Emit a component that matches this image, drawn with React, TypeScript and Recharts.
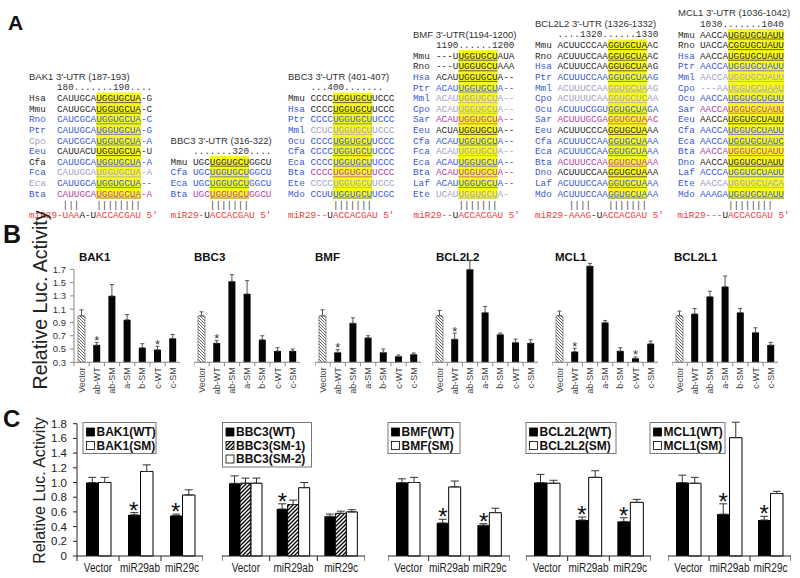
import React from "react";
import { ComposedChart, Bar, XAxis, YAxis, ErrorBar, Cell, Line } from "recharts";

const SANS = "'Liberation Sans', Arial, Helvetica, sans-serif";
const MONO = "'Liberation Mono', 'Courier New', monospace";
const STARF = "'Liberation Sans', Arial, sans-serif";

// ---------------- Panel A : alignment text ----------------
const bak1Species = ["Hsa", "Mmu", "Rno", "Ptr", "Cpo", "Eeu", "Cfa", "Fca", "Eca", "Bta"];
const bak1Seqs = ["CAUUGCAUGGUGCUA-G", "CAUUGCAUGGUGCUA-C", "CAUCGCAUGGUGCUA-C", "CAUUGCAUGGUGCUA-G", "CAUCGCAUGGUGCUA-A", "CAUUACUUGGUGCUA-U", "CAUUGCAUGGUGCUA-A", "CAUUGCAUGGUGCUA-A", "CAUUGCAUGGUGCUA--", "CAUUGCAUGGUGCUA-A"];
const bbc3aSpecies = ["Mmu", "Cfa", "Eca", "Bta"];
const bbc3aSeqs = ["UGCUGGUGCUGGCU", "UGCUGGUGCUGGCU", "UGCUGGUGCUGGCU", "UGCUGGUGCUGGCU"];
const bbc3bSpecies = ["Mmu", "Hsa", "Ptr", "Mml", "Ocu", "Cfa", "Eca", "Bta", "Ete", "Mdo"];
const bbc3bSeqs = ["CCCCUGGUGCUUCCC", "CCCCUGGUGCUUCCC", "CCCCUGGUGCUUCCC", "CCUCUGGUGCUUCCC", "CCCCUGGUGCUUCCC", "CCCCUGGUGCUUCCC", "CCCCUGGUGCUUCCC", "CCCCUGGUGCUUCCC", "CCCCUGGUGCUUCCC", "CCUUUGGUGCUUCGC"];
const bmfSpecies = ["Mmu", "Rno", "Hsa", "Ptr", "Mml", "Cpo", "Sar", "Eeu", "Cfa", "Fca", "Eca", "Bta", "Laf", "Ete"];
const bmfSeqs = ["---UUGGUGCUAUA", "---UUGGUGCUAAA", "ACAUUGGUGCUA--", "ACAUUGGUGCUA--", "ACAUUGGUGCUA--", "ACAUUGGUGCUA--", "ACAUUGGUGCUA--", "ACUAUGGUGCUA--", "ACAUUGGUGCUA--", "ACAUUGGUGCUA--", "ACAUUGGUGCUA--", "ACAUUGGUGCUA--", "ACAUUGGUGCUA--", "UCAUUGGUGCUA-"];
const bcl2l2Species = ["Mmu", "Rno", "Hsa", "Ptr", "Mml", "Cpo", "Ocu", "Sar", "Eeu", "Cfa", "Eca", "Bta", "Dno", "Laf", "Mdo"];
const bcl2l2Seqs = ["ACUUCCCAAGGUGCUAAC", "ACUUUCCAAGGUGCUAAC", "ACUUUCCAAGGUGCUAAG", "ACUUUCCAAGGUGCUAAG", "ACUUUCCAAGGUGCUAAG", "ACUUUUCAAGGUGCUCAA", "ACUUUCGGUGGUGCUAGA", "ACUUUGCGAGGUGCUAAC", "ACUUUCCCAGGUGCUAAA", "ACUUUCCAAGGUGCUAAA", "ACUUUCCAAGGUGCUAAA", "ACUUUCCAAGGUGCUAAA", "ACUUUCCAAGGUGCUAAA", "ACUUUCCAAGGUGCUAAA", "ACUUUCCAAGGUGCUAAA"];
const mcl1Species = ["Mmu", "Rno", "Hsa", "Ptr", "Mml", "Cpo", "Ocu", "Sar", "Eeu", "Cfa", "Eca", "Bta", "Dno", "Laf", "Ete", "Mdo"];
const mcl1Seqs = ["AACCAUGGUGCUAUU", "UACCACGGUGCUAUU", "AACCAUGGUGCUAUU", "AACCAUGGUGCUAUU", "AACCAUGGUGCUAUU", "---AAUGGUGCUAAU", "AACCAUGGUGCUGUU", "AACCAUGGUGCUAUU", "AACCAUGGUGCUAUU", "AACCAUGGUGCUAUU", "AACCAUGGUGCUAUC", "AACCAUGGUGCUAUU", "AACCAUGGUGCUAUU", "ACCCAUGGUGCUAUU", "AACCAUGGUGCUACA", "AAAGAUGGUGCUAUU"];

const alignBlocks = [
  { title: "BAK1 3'-UTR (187-193)", ruler: "180.......190....", species: bak1Species, seqs: bak1Seqs, seed: [7, 8], pairs: " |||   ||||||||", mir: "miR29-UAAA-UACCACGAU 5'", mirShift: 5, mirBlack: [9, 12] },
  { title: "BBC3 3'-UTR (316-322)", ruler: ".......320....", species: bbc3aSpecies, seqs: bbc3aSeqs, seed: [3, 7], pairs: "   |||||||", mir: "miR29-UACCACGAU 5'", mirShift: 4, mirBlack: [6, 7] },
  { title: "BBC3 3'-UTR (401-407)", ruler: "...400.......", species: bbc3bSpecies, seqs: bbc3bSeqs, seed: [4, 7], pairs: "    |||||||", mir: "miR29--UACCACGAU 5'", mirShift: 4, mirBlack: [7, 8] },
  { title: "BMF 3'-UTR(1194-1200)", ruler: "1190......1200", species: bmfSpecies, seqs: bmfSeqs, seed: [4, 7], pairs: "    |||||||", mir: "miR29--UACCACGAU 5'", mirShift: 4, mirBlack: [7, 8] },
  { title: "BCL2L2 3'-UTR (1326-1332)", ruler: "....1320......1330", species: bcl2l2Species, seqs: bcl2l2Seqs, seed: [9, 7], pairs: "  ||||   |||||||", mir: "miR29-AAAG-UACCACGAU 5'", mirShift: 4, mirBlack: [10, 12] },
  { title: "MCL1 3'-UTR (1036-1042)", ruler: "1030.......1040", species: mcl1Species, seqs: mcl1Seqs, seed: [5, 10], pairs: "     ||||||||", mir: "miR29---UACCACGAU 5'", mirShift: 4, mirBlack: [8, 9] },
];

// styles for panel A (colour tone per row: k black, b blue, g grey, p purple)
const alignLabelTones = ["kkbbgbkbgb", "kbbb", "kbbbbbbbbb", "kkbbbbbbbbbbbb", "kkbbbbbbbbbbbbb", "kkbbbbbbbbbbbbbb"];
const alignSeqTones = ["kkbbbkbgbp", "kbbp", "kkbgbbbpgb", "kkkbggpkbgbpbg", "kkkbggbpkbbpkbb", "kkkbggbpkbbpkbgb"];
const alignPos = [
  { lx: 29, sx: 57 },
  { lx: 170.6, sx: 193 },
  { lx: 288, sx: 310.5 },
  { lx: 413, sx: 436 },
  { lx: 535, sx: 557.5 },
  { lx: 678, sx: 700 },
];
const TONE: Record<string, string> = { k: "#2a2a2a", b: "#3b59d6", g: "#a2a2c4", p: "#b344a6" };
const RED = "#f03a3a";
const CW = 5.6;
const FS_MONO = 9.33;
const ROW_BOTTOM = 193.5;
const ROW_STEP = 10.6;

// ---------------- Panel B data ----------------
const bCategories = ["Vector", "ab-WT", "ab-SM", "a-SM", "b-SM", "c-WT", "c-SM"];
const bTicks = [0.3, 0.5, 0.7, 0.9, 1.1, 1.3, 1.5, 1.7];
const bGenes = ["BAK1", "BBC3", "BMF", "BCL2L2", "MCL1", "BCL2L1"];
const bak1Luc = [1.0, 0.56, 1.3, 0.94, 0.52, 0.49, 0.66];
const bak1LucErr = [0.09, 0.04, 0.17, 0.08, 0.06, 0.05, 0.06];
const bak1LucStars = [1, 5];
const bbc3Luc = [1.0, 0.59, 1.52, 1.33, 0.64, 0.47, 0.47];
const bbc3LucErr = [0.06, 0.04, 0.1, 0.2, 0.06, 0.05, 0.03];
const bbc3LucStars = [1];
const bmfLuc = [1.0, 0.45, 0.89, 0.67, 0.45, 0.39, 0.42];
const bmfLucErr = [0.09, 0.04, 0.08, 0.03, 0.05, 0.02, 0.02];
const bmfLucStars = [1];
const bcl2l2Luc = [1.0, 0.65, 1.7, 1.05, 0.72, 0.6, 0.59];
const bcl2l2LucErr = [0.08, 0.09, 0.13, 0.09, 0.02, 0.05, 0.05];
const bcl2l2LucStars = [1];
const mcl1Luc = [1.0, 0.46, 1.75, 0.9, 0.47, 0.36, 0.58];
const mcl1LucErr = [0.07, 0.05, 0.04, 0.03, 0.05, 0.02, 0.04];
const mcl1LucStars = [1, 5];
const bcl2l1Luc = [1.0, 1.03, 1.29, 1.44, 1.05, 0.75, 0.56];
const bcl2l1LucErr = [0.07, 0.08, 0.08, 0.16, 0.06, 0.07, 0.04];
const bcl2l1LucStars: number[] = [];

// ---------------- Panel C data ----------------
const cCategories = ["Vector", "miR29ab", "miR29c"];
const cTicks = [0, 0.2, 0.4, 0.6, 0.8, 1.0, 1.2, 1.4, 1.6, 1.8];
const bak1Wt = [1.0, 0.56, 0.55];
const bak1WtErr = [0.07, 0.03, 0.02];
const bak1Sm = [1.0, 1.15, 0.83];
const bak1SmErr = [0.07, 0.09, 0.07];
const bak1CStars = [1, 2];
const bbc3Wt = [0.99, 0.64, 0.54];
const bbc3WtErr = [0.1, 0.07, 0.03];
const bbc3Sm1 = [0.99, 0.7, 0.58];
const bbc3Sm1Err = [0.07, 0.06, 0.03];
const bbc3Sm2 = [0.99, 0.93, 0.6];
const bbc3Sm2Err = [0.07, 0.07, 0.03];
const bbc3CStars = [1];
const bmfWt = [1.0, 0.45, 0.42];
const bmfWtErr = [0.05, 0.05, 0.02];
const bmfSm = [1.0, 0.94, 0.59];
const bmfSmErr = [0.07, 0.08, 0.06];
const bmfCStars = [1, 2];
const bcl2l2Wt = [1.0, 0.49, 0.47];
const bcl2l2WtErr = [0.11, 0.04, 0.05];
const bcl2l2Sm = [0.99, 1.07, 0.73];
const bcl2l2SmErr = [0.04, 0.09, 0.04];
const bcl2l2CStars = [1, 2];
const mcl1Wt = [1.0, 0.57, 0.49];
const mcl1WtErr = [0.1, 0.14, 0.05];
const mcl1Sm = [0.99, 1.61, 0.85];
const mcl1SmErr = [0.08, 0.21, 0.03];
const mcl1CStars = [1, 2];

// ---------------- layout constants ----------------
const B_BOTTOM = 362.3;
const B_PPU = 66.4;
const B_WRAP_TOP = 250;
const B_XH = 40;
const B_BAND = 15.2;
const B_PLOT_W = B_BAND * 7;
const bLefts = [74, 193.5, 314.5, 432, 551.5, 671.5];
const bTitleX = [79, 194, 315, 436, 555, 674];

const C_BOTTOM = 556;
const C_PPU = 73.5;
const C_WRAP_TOP = 400;
const C_XH = 22;

function Alignment({ k }: { k: number }) {
  const b = alignBlocks[k];
  const p = alignPos[k];
  const n = b.species.length;
  const rowY = (i: number) => ROW_BOTTOM - (n - 1 - i) * ROW_STEP;
  const base = (c: number) => c + 3.1;
  const firstY = rowY(0);
  const hx = p.sx + b.seed[0] * CW;
  const hw = b.seed[1] * CW;
  const mirX = p.sx - b.mirShift * CW;
  const pre: React.CSSProperties = { whiteSpace: "pre" };
  return (
    <g>
      <rect x={hx} y={firstY - 5.6} width={hw} height={rowY(n - 1) - firstY + 11.2} fill="#f8f81c" />
      <text x={p.lx} y={firstY - 21.6 + 3.4} fontFamily={SANS} fontSize={9.5} fill="#333">{b.title}</text>
      <text x={p.sx} y={base(firstY - 11)} fontFamily={MONO} fontSize={FS_MONO} fill="#333" style={pre}>{b.ruler}</text>
      {b.species.map((s, i) => {
        const lt = TONE[alignLabelTones[k][i]];
        const st = TONE[alignSeqTones[k][i]];
        const y = base(rowY(i));
        return (
          <g key={i}>
            <text x={p.lx} y={y} fontFamily={MONO} fontSize={FS_MONO} fill={lt}>{s}</text>
            <text x={p.sx} y={y} fontFamily={MONO} fontSize={FS_MONO} fill={st} style={pre}>{b.seqs[i]}</text>
            <line x1={hx} x2={Math.min(hx + hw, p.sx + b.seqs[i].length * CW)} y1={y + 1.4} y2={y + 1.4} stroke={st} strokeWidth={0.7} />
          </g>
        );
      })}
      <text x={p.sx} y={207.5} fontFamily={MONO} fontSize={FS_MONO} fill="#444" style={pre}>{b.pairs}</text>
      <text x={mirX} y={218} fontFamily={MONO} fontSize={FS_MONO} style={pre}>
        <tspan fill={RED}>{b.mir.slice(0, b.mirBlack[0])}</tspan>
        <tspan fill="#222">{b.mir.slice(b.mirBlack[0], b.mirBlack[1])}</tspan>
        <tspan fill={RED}>{b.mir.slice(b.mirBlack[1])}</tspan>
      </text>
    </g>
  );
}

const starDot = (dx: number, size: number, off: number, color: string) => (p: any) => {
  const key = `st${p.index}`;
  if (p.value == null || p.cy == null || Number.isNaN(p.cy)) return <g key={key} />;
  return (
    <text key={key} x={p.cx + dx} y={p.cy + off} textAnchor="middle" fontFamily={STARF} fontSize={size} fill={color} stroke="none">*</text>
  );
};

const renderBTick = (props: any) => {
  const { x, y, payload, index } = props;
  const h = B_BAND / 2;
  return (
    <g>
      <line x1={x + h} x2={x + h} y1={y} y2={y + 4} stroke="#8a8a8a" />
      {index === 0 ? <line x1={x - h} x2={x - h} y1={y} y2={y + 4} stroke="#8a8a8a" /> : null}
      <text x={x} y={y + 5} transform={`rotate(-90 ${x} ${y + 5})`} textAnchor="end" dominantBaseline="central" fontFamily={SANS} fontSize={9} fill="#444">{payload.value}</text>
    </g>
  );
};

function BChart({ k, vals, errs, stars }: { k: number; vals: number[]; errs: number[]; stars: number[] }) {
  const withAxis = k === 0;
  const data = bCategories.map((c, i) => ({
    cat: c,
    v: vals[i],
    e: [0, errs[i]],
    star: stars.includes(i) ? vals[i] + errs[i] : null,
  }));
  const max = withAxis ? 1.7 : 1.9;
  const plotH = (max - 0.3) * B_PPU;
  const mTop = B_BOTTOM - plotH - B_WRAP_TOP;
  const yW = withAxis ? 30 : 0;
  const H = B_BOTTOM - B_WRAP_TOP + B_XH;
  const W = yW + B_PLOT_W;
  return (
    <div style={{ position: "absolute", left: bLefts[k] - yW, top: B_WRAP_TOP }}>
      <ComposedChart width={W} height={H} data={data} margin={{ top: mTop, right: 0, bottom: 0, left: 0 }} barSize={7}>
        <XAxis dataKey="cat" interval={0} tickLine={false} tickSize={0} tickMargin={0} height={B_XH} axisLine={{ stroke: "#8a8a8a" }} tick={renderBTick} />
        {withAxis ? (
          <YAxis
            domain={[0.3, 1.7]}
            ticks={bTicks}
            interval={0}
            width={30}
            tickSize={4}
            tickMargin={4}
            axisLine={{ stroke: "#8a8a8a" }}
            tickLine={{ stroke: "#8a8a8a" }}
            tick={{ fontSize: 9.5, fill: "#333", fontFamily: SANS }}
            tickFormatter={(v: number) => v.toFixed(1)}
          />
        ) : (
          <YAxis hide domain={[0.3, 1.9]} />
        )}
        <Bar dataKey="v" isAnimationActive={false}>
          {data.map((d, i) => (
            <Cell key={i} fill={i === 0 ? "url(#hatchB)" : "#050505"} stroke={i === 0 ? "#777" : "none"} strokeWidth={0.8} />
          ))}
          <ErrorBar dataKey="e" width={2} stroke="#555" strokeWidth={1} direction="y" />
        </Bar>
        <Line dataKey="star" stroke="none" isAnimationActive={false} activeDot={false} dot={starDot(0, 13, 2.5, "#333")} />
      </ComposedChart>
    </div>
  );
}

type CSeries = { vals: number[]; errs: number[]; fill: string; stroke: string };

function CChart({ left, plotW, barSize, series, stars, withAxis }: { left: number; plotW: number; barSize: number; series: CSeries[]; stars: number[]; withAxis: boolean }) {
  const data = cCategories.map((c, i) => {
    const row: any = { cat: c };
    series.forEach((s, j) => {
      row["v" + j] = s.vals[i];
      row["e" + j] = [0, s.errs[i]];
    });
    row.star = stars.includes(i) ? series[0].vals[i] + series[0].errs[i] : null;
    return row;
  });
  const band = plotW / cCategories.length;
  const max = withAxis ? 1.8 : 2.0;
  const plotH = max * C_PPU;
  const mTop = C_BOTTOM - plotH - C_WRAP_TOP;
  const yW = withAxis ? 40 : 0;
  const H = C_BOTTOM - C_WRAP_TOP + C_XH;
  const W = yW + plotW;
  const renderCTick = (props: any) => {
    const { x, y, payload, index } = props;
    const h = band / 2;
    return (
      <g>
        <line x1={x + h} x2={x + h} y1={y} y2={y + 5} stroke="#222" />
        {index === 0 ? <line x1={x - h} x2={x - h} y1={y} y2={y + 5} stroke="#222" /> : null}
        <text transform={`translate(${x},${y + 15.5}) scale(0.8,1)`} textAnchor="middle" fontFamily={SANS} fontSize={12.5} fill="#222">{payload.value}</text>
      </g>
    );
  };
  const dx = -(barSize * (series.length - 1)) / 2;
  return (
    <div style={{ position: "absolute", left: left - yW, top: C_WRAP_TOP }}>
      <ComposedChart width={W} height={H} data={data} margin={{ top: mTop, right: 0, bottom: 0, left: 0 }} barSize={barSize} barGap={0}>
        <XAxis dataKey="cat" interval={0} tickLine={false} tickSize={0} tickMargin={0} height={C_XH} axisLine={{ stroke: "#222" }} tick={renderCTick} />
        {withAxis ? (
          <YAxis
            domain={[0, 1.8]}
            ticks={cTicks}
            interval={0}
            width={40}
            tickSize={4}
            tickMargin={6}
            axisLine={{ stroke: "#222" }}
            tickLine={{ stroke: "#222" }}
            tick={{ fontSize: 11.5, fill: "#222", fontFamily: SANS }}
            tickFormatter={(v: number) => (v === 0 ? "0" : v.toFixed(1))}
          />
        ) : (
          <YAxis hide domain={[0, 2.0]} />
        )}
        {series.map((s, j) => (
          <Bar key={j} dataKey={"v" + j} fill={s.fill} stroke={s.stroke} strokeWidth={1} isAnimationActive={false}>
            <ErrorBar dataKey={"e" + j} width={4} stroke="#333" strokeWidth={1} direction="y" />
          </Bar>
        ))}
        <Line dataKey="star" stroke="none" isAnimationActive={false} activeDot={false} dot={starDot(dx, 24, 6, "#111")} />
      </ComposedChart>
    </div>
  );
}

const WT: [string, string] = ["#000", "none"];
const SM: [string, string] = ["#fff", "#000"];
const SMH: [string, string] = ["url(#hatchC)", "#000"];
const mk = (vals: number[], errs: number[], st: [string, string]): CSeries => ({ vals, errs, fill: st[0], stroke: st[1] });

const cLegends = [
  { x: 83, w: 73, labels: ["BAK1(WT)", "BAK1(SM)"], kinds: ["wt", "sm"] },
  { x: 222.5, w: 89, labels: ["BBC3(WT)", "BBC3(SM-1)", "BBC3(SM-2)"], kinds: ["wt", "h", "sm"] },
  { x: 388, w: 72, labels: ["BMF(WT)", "BMF(SM)"], kinds: ["wt", "sm"] },
  { x: 526, w: 90, labels: ["BCL2L2(WT)", "BCL2L2(SM)"], kinds: ["wt", "sm"] },
  { x: 650, w: 75, labels: ["MCL1(WT)", "MCL1(SM)"], kinds: ["wt", "sm"] },
];

export default function App() {
  return (
    <div style={{ position: "absolute", left: 0, top: 0, width: 800, height: 578, overflow: "hidden", background: "#fff" }}>
      <svg width={0} height={0} style={{ position: "absolute" }}>
        <defs>
          <pattern id="hatchB" patternUnits="userSpaceOnUse" width={3} height={3}>
            <rect width={3} height={3} fill="#fff" />
            <path d="M-1,-1 L4,4 M-1,2 L1,4 M2,-1 L4,1" stroke="#555" strokeWidth={0.9} />
          </pattern>
          <pattern id="hatchC" patternUnits="userSpaceOnUse" width={4} height={4}>
            <rect width={4} height={4} fill="#fff" />
            <path d="M-1,5 L5,-1 M-1,1 L1,-1 M3,5 L5,3" stroke="#000" strokeWidth={1.3} />
          </pattern>
        </defs>
      </svg>
      <svg width={800} height={578} style={{ position: "absolute", left: 0, top: 0 }}>
        <text x={8} y={30} fontFamily={SANS} fontWeight="bold" fontSize={21} fill="#111">A</text>
        <text x={3} y={242.5} fontFamily={SANS} fontWeight="bold" fontSize={25} fill="#111">B</text>
        <text x={3} y={427} fontFamily={SANS} fontWeight="bold" fontSize={24} fill="#111">C</text>
        {alignBlocks.map((_, k) => <Alignment key={k} k={k} />)}
        <text transform="translate(47,300) rotate(-90)" textAnchor="middle" fontFamily={SANS} fontSize={19.5} fill="#222">Relative Luc. Activity</text>
        <text transform="translate(45,490.5) rotate(-90)" textAnchor="middle" fontFamily={SANS} fontSize={16} fill="#222">Relative Luc. Activity</text>
        {bGenes.map((g, i) => (
          <text key={g} x={bTitleX[i]} y={261} fontFamily={SANS} fontWeight="bold" fontSize={11.5} fill="#111">{g}</text>
        ))}
      </svg>
      <BChart k={0} vals={bak1Luc} errs={bak1LucErr} stars={bak1LucStars} />
      <BChart k={1} vals={bbc3Luc} errs={bbc3LucErr} stars={bbc3LucStars} />
      <BChart k={2} vals={bmfLuc} errs={bmfLucErr} stars={bmfLucStars} />
      <BChart k={3} vals={bcl2l2Luc} errs={bcl2l2LucErr} stars={bcl2l2LucStars} />
      <BChart k={4} vals={mcl1Luc} errs={mcl1LucErr} stars={mcl1LucStars} />
      <BChart k={5} vals={bcl2l1Luc} errs={bcl2l1LucErr} stars={bcl2l1LucStars} />

      <CChart left={77} plotW={126} barSize={12.5} withAxis series={[mk(bak1Wt, bak1WtErr, WT), mk(bak1Sm, bak1SmErr, SM)]} stars={bak1CStars} />
      <CChart left={222} plotW={143} barSize={11} withAxis={false} series={[mk(bbc3Wt, bbc3WtErr, WT), mk(bbc3Sm1, bbc3Sm1Err, SMH), mk(bbc3Sm2, bbc3Sm2Err, SM)]} stars={bbc3CStars} />
      <CChart left={387.5} plotW={122} barSize={12} withAxis={false} series={[mk(bmfWt, bmfWtErr, WT), mk(bmfSm, bmfSmErr, SM)]} stars={bmfCStars} />
      <CChart left={526} plotW={125} barSize={13} withAxis={false} series={[mk(bcl2l2Wt, bcl2l2WtErr, WT), mk(bcl2l2Sm, bcl2l2SmErr, SM)]} stars={bcl2l2CStars} />
      <CChart left={668} plotW={123} barSize={12.5} withAxis={false} series={[mk(mcl1Wt, mcl1WtErr, WT), mk(mcl1Sm, mcl1SmErr, SM)]} stars={mcl1CStars} />

      <svg width={800} height={578} style={{ position: "absolute", left: 0, top: 0, pointerEvents: "none" }}>
        {cLegends.map((L, i) => {
          const top = 422.5;
          const h = L.labels.length * 13.5 + 4;
          return (
            <g key={i}>
              <rect x={L.x} y={top} width={L.w} height={h} fill="#fff" stroke="#777" strokeWidth={1} />
              {L.labels.map((t, j) => {
                const cy = top + 9.5 + j * 13.5;
                const kind = L.kinds[j];
                const fill = kind === "wt" ? "#000" : kind === "h" ? "url(#hatchC)" : "#fff";
                return (
                  <g key={j}>
                    <rect x={L.x + 3.5} y={cy - 4} width={8} height={8} fill={fill} stroke="#000" strokeWidth={0.8} />
                    <text x={L.x + 13.5} y={cy + 4.3} fontFamily={SANS} fontWeight="bold" fontSize={12} fill="#111">{t}</text>
                  </g>
                );
              })}
            </g>
          );
        })}
      </svg>
    </div>
  );
}
